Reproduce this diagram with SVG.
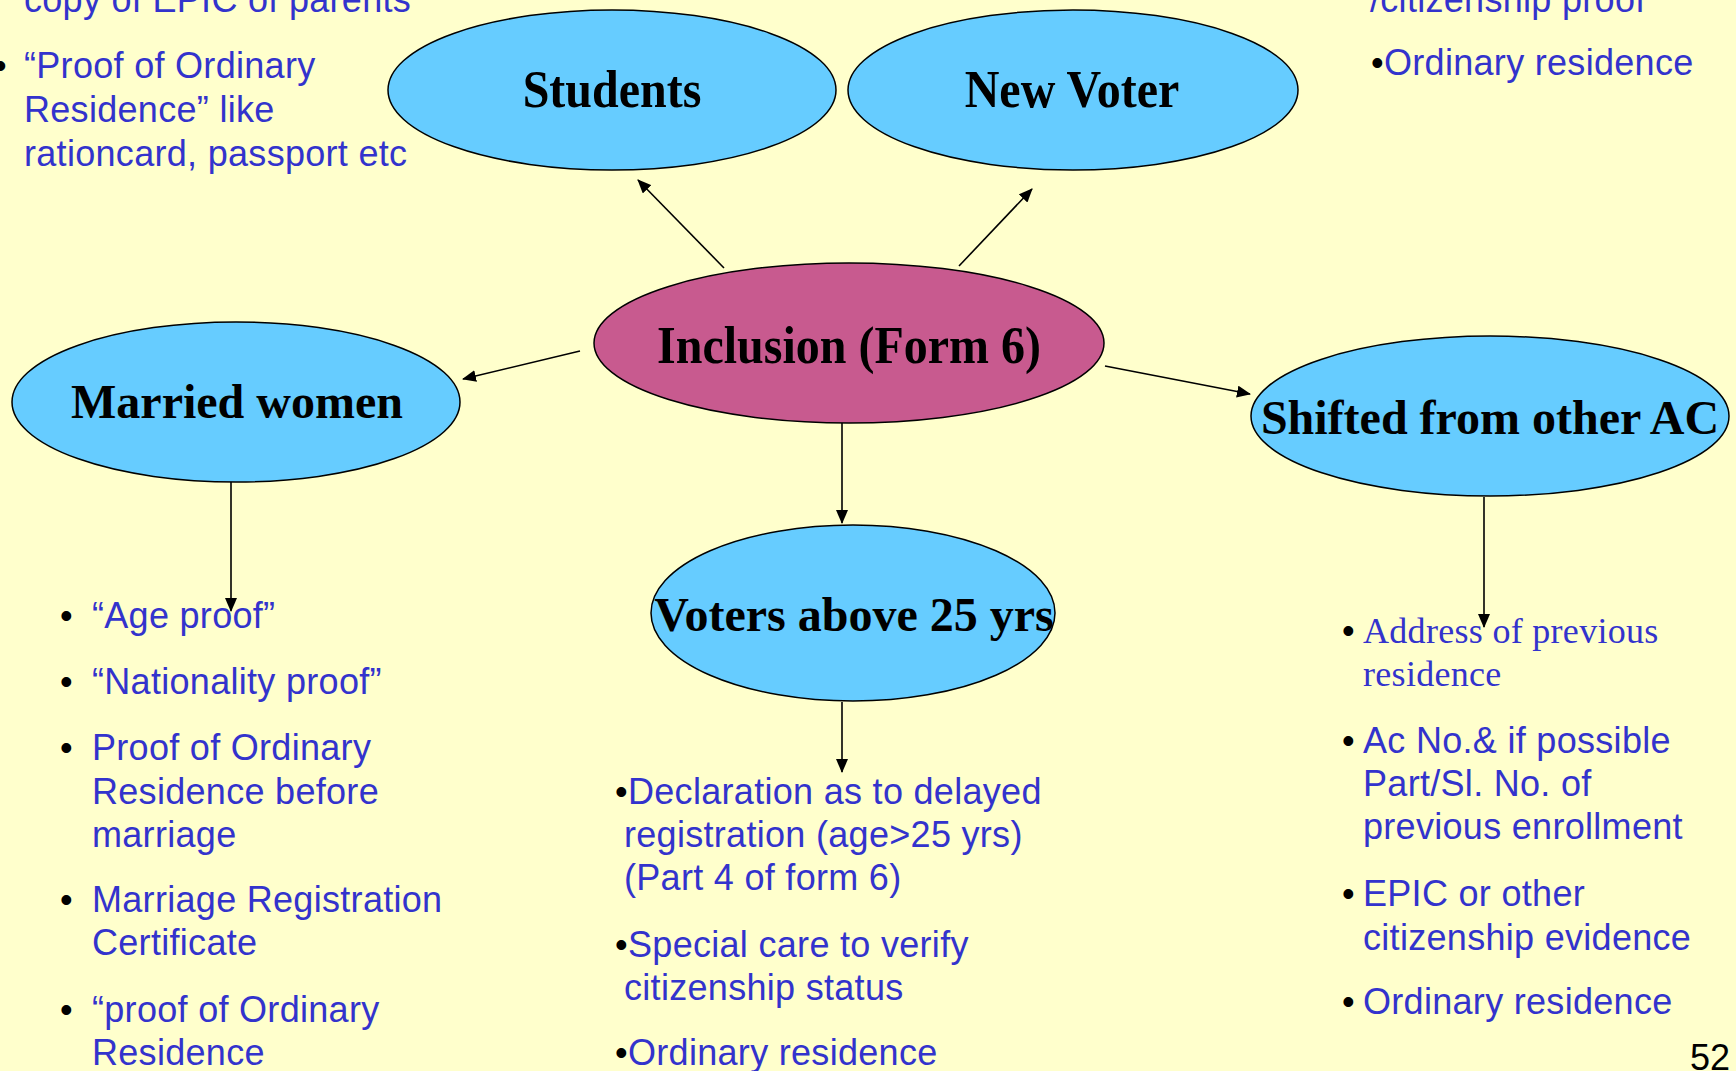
<svg xmlns="http://www.w3.org/2000/svg" width="1736" height="1071" viewBox="0 0 1736 1071">
<style>
.bg{fill:#FFFFCC}
.node{fill:#66CCFF;stroke:#000;stroke-width:1.5}
.main{fill:#C85A8F;stroke:#000;stroke-width:1.5}
.lbl{font-family:"Liberation Serif","Times New Roman",serif;font-weight:bold;font-size:48px;fill:#000;text-anchor:middle}
.t{font-family:"Liberation Sans",Arial,sans-serif;font-size:36px;fill:#3333CC;letter-spacing:0.3px}
.ts{font-family:"Liberation Serif","Times New Roman",serif;font-size:36px;fill:#3333CC;letter-spacing:0.3px}
.b{font-family:"Liberation Sans",Arial,sans-serif;font-size:36px;fill:#000}
.conn line{stroke:#000;stroke-width:1.6;marker-end:url(#ah)}
</style>
<defs>
<marker id="ah" markerUnits="userSpaceOnUse" markerWidth="14" markerHeight="12" refX="13" refY="6" orient="auto">
<path d="M0,0 L14,6 L0,12 z" fill="#000"/>
</marker>
</defs>
<rect class="bg" x="0" y="0" width="1736" height="1071"/>

<g id="conn" class="conn">
<line x1="724" y1="268" x2="638" y2="180"/>
<line x1="959" y1="266" x2="1032" y2="189"/>
<line x1="580" y1="351" x2="463" y2="379"/>
<line x1="1105" y1="366" x2="1250" y2="394"/>
<line x1="842" y1="423" x2="842" y2="523"/>
<line x1="231" y1="482" x2="231" y2="611"/>
<line x1="842" y1="702" x2="842" y2="772"/>
<line x1="1484" y1="497" x2="1484" y2="627"/>
</g>

<g id="students">
<ellipse class="node" cx="612" cy="90" rx="224" ry="80"/>
<text class="lbl" transform="translate(612,107) scale(1,1.12)">Students</text>
</g>
<g id="newvoter">
<ellipse class="node" cx="1073" cy="90" rx="225" ry="80"/>
<text class="lbl" transform="translate(1072,107) scale(1,1.12)">New Voter</text>
</g>
<g id="inclusion">
<ellipse class="main" cx="849" cy="343" rx="255" ry="80"/>
<text class="lbl" transform="translate(849,363) scale(1,1.12)">Inclusion (Form 6)</text>
</g>
<g id="married">
<ellipse class="node" cx="236" cy="402" rx="224" ry="80"/>
<text class="lbl" x="237" y="418">Married women</text>
</g>
<g id="shifted">
<ellipse class="node" cx="1490" cy="416" rx="239" ry="80"/>
<text class="lbl" x="1490" y="434">Shifted from other AC</text>
</g>
<g id="voters25">
<ellipse class="node" cx="853" cy="613" rx="202" ry="88"/>
<text class="lbl" x="854" y="631">Voters above 25 yrs</text>
</g>

<g id="list-topleft">
<text class="t" x="24" y="12">copy of EPIC of parents</text>
<text class="b" x="-6" y="78">•</text>
<text class="t" x="24" y="78">“Proof of Ordinary</text>
<text class="t" x="24" y="122">Residence” like</text>
<text class="t" x="24" y="166">rationcard, passport etc</text>
</g>

<g id="list-topright">
<text class="t" x="1370" y="12">/citizenship proof</text>
<text class="b" x="1371" y="75">•</text>
<text class="t" x="1384" y="75">Ordinary residence</text>
</g>

<g id="list-married">
<text class="b" x="60" y="628">•</text><text class="t" x="92" y="628">“Age proof”</text>
<text class="b" x="60" y="694">•</text><text class="t" x="92" y="694">“Nationality  proof”</text>
<text class="b" x="60" y="760">•</text><text class="t" x="92" y="760">Proof of Ordinary</text>
<text class="t" x="92" y="804">Residence before</text>
<text class="t" x="92" y="847">marriage</text>
<text class="b" x="60" y="912">•</text><text class="t" x="92" y="912">Marriage  Registration</text>
<text class="t" x="92" y="955">Certificate</text>
<text class="b" x="60" y="1022">•</text><text class="t" x="92" y="1022">“proof of Ordinary</text>
<text class="t" x="92" y="1065">Residence</text>
</g>

<g id="list-voters25">
<text class="b" x="615" y="804">•</text><text class="t" x="628" y="804">Declaration as to delayed</text>
<text class="t" x="624" y="847">registration (age&gt;25 yrs)</text>
<text class="t" x="624" y="890">(Part 4 of form 6)</text>
<text class="b" x="615" y="957">•</text><text class="t" x="628" y="957">Special care to verify</text>
<text class="t" x="624" y="1000">citizenship status</text>
<text class="b" x="615" y="1065">•</text><text class="t" x="628" y="1065">Ordinary residence</text>
</g>

<g id="list-shifted">
<text class="b" x="1342" y="643">•</text><text class="ts" x="1363" y="643">Address of previous</text>
<text class="ts" x="1363" y="686">residence</text>
<text class="b" x="1342" y="753">•</text><text class="t" x="1363" y="753">Ac No.&amp; if possible</text>
<text class="t" x="1363" y="796">Part/Sl. No. of</text>
<text class="t" x="1363" y="839">previous enrollment</text>
<text class="b" x="1342" y="906">•</text><text class="t" x="1363" y="906">EPIC or other</text>
<text class="t" x="1363" y="950">citizenship evidence</text>
<text class="b" x="1342" y="1014">•</text><text class="t" x="1363" y="1014">Ordinary residence</text>
</g>

<text class="b" x="1730" y="1070" text-anchor="end">52</text>
</svg>
